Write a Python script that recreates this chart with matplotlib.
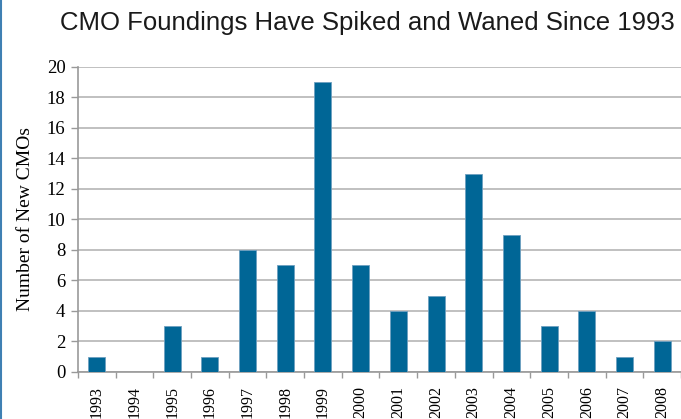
import matplotlib
matplotlib.use("Agg")
import matplotlib.pyplot as plt
from matplotlib.lines import Line2D

years = ["1993", "1994", "1995", "1996", "1997", "1998", "1999", "2000",
         "2001", "2002", "2003", "2004", "2005", "2006", "2007", "2008"]
counts = [1, 0, 3, 1, 8, 7, 19, 7, 4, 5, 13, 9, 3, 4, 1, 2]
yticks = [0, 2, 4, 6, 8, 10, 12, 14, 16, 18, 20]

fig = plt.figure(figsize=(6.81, 4.19), dpi=100)
ax = fig.add_axes([0.1145, 0.1122, 0.8855, 0.7279])

x = list(range(len(years)))
ax.bar(x, counts, width=0.45, color="#006696", edgecolor="#6e9fc0", linewidth=0.6, zorder=3)

ax.set_xlim(-0.5, len(years) - 0.5)
ax.set_ylim(0, 20)
ax.set_yticks(yticks)
ax.set_yticklabels([str(v) for v in yticks])
ax.set_xticks(x)
ax.set_xticklabels(years, rotation=90)
for lbl in ax.get_yticklabels():
    lbl.set_fontfamily("Liberation Serif")
    lbl.set_fontsize(13.5)
for lbl in ax.get_xticklabels():
    lbl.set_fontfamily("Liberation Serif")
    lbl.set_fontsize(11.5)
ax.tick_params(axis="x", length=0, pad=10)
ax.set_xticks([i - 0.5 for i in range(len(years) + 1)], minor=True)
ax.tick_params(axis="x", which="minor", length=4, color="#999999", width=1)
ax.tick_params(axis="y", length=5, color="#999999", width=1, pad=4)

ax.yaxis.grid(True, color="#b5b5b5", linewidth=1.2, zorder=0)
ax.set_axisbelow(True)
for s in ["top", "right"]:
    ax.spines[s].set_visible(False)
ax.spines["left"].set_color("#999999")
ax.spines["bottom"].set_color("#999999")
ax.spines["left"].set_linewidth(1.2)
ax.spines["bottom"].set_linewidth(1.2)

ax.set_ylabel("Number of New CMOs", fontfamily="Liberation Serif", fontsize=14, labelpad=9)

fig.text(0.540, 0.945, "CMO Foundings Have Spiked and Waned Since 1993",
         ha="center", va="center", fontfamily="Liberation Sans", fontsize=18.5, color="#1a1a1a")

fig.add_artist(Line2D([0.0015, 0.0015], [0, 1], transform=fig.transFigure, color="#3f80b3", linewidth=1.5))

fig.savefig("out.png", dpi=100)
